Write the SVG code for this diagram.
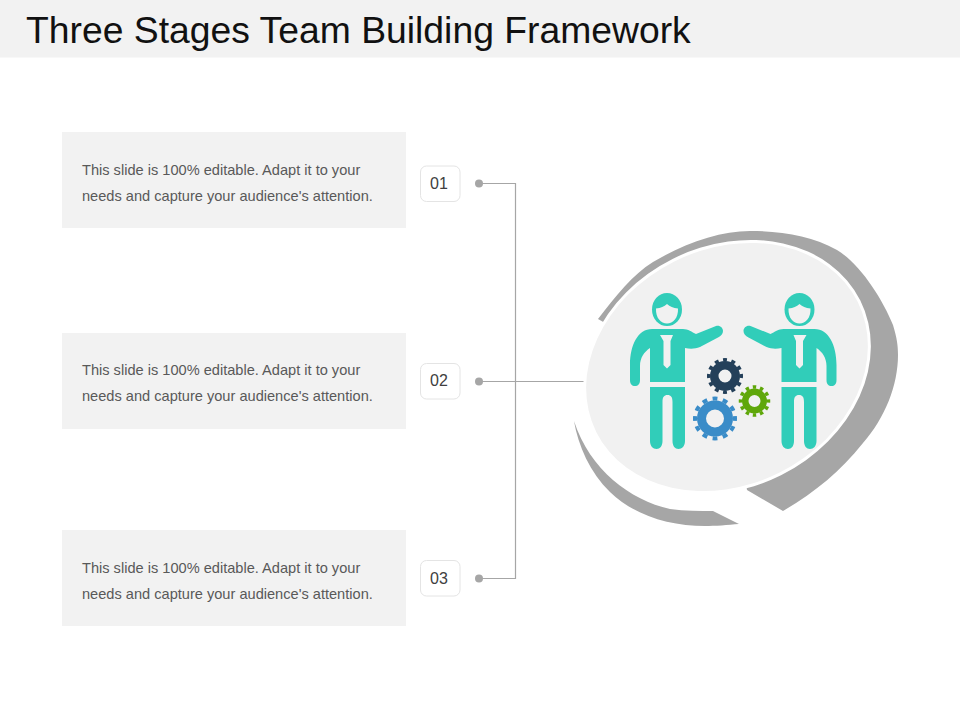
<svg xmlns="http://www.w3.org/2000/svg" xmlns:xlink="http://www.w3.org/1999/xlink" width="960" height="720" viewBox="0 0 960 720">
<style>
text{font-family:"Liberation Sans",Arial,sans-serif}
.title{font-size:37.300px;fill:#111}
.body{font-size:14.600px;fill:#595959}
.box{fill:#f2f2f2}
.badge{fill:#fff;stroke:#e4e4e4;stroke-width:1}
.num{font-size:16px;fill:#404040;text-anchor:middle}
.dot{fill:#a6a6a6}
.conn{fill:none;stroke:#a6a6a6;stroke-width:1.2}
.swoosh{fill:#a6a6a6}
.teal{fill:#31cdb9}
.pale{fill:#f1f1f1}
.ring{fill:none}
.teeth{fill:none;stroke-dasharray:.95 1.05;stroke-dashoffset:.475}
</style>
<defs>
<g id="person">
<ellipse class="teal" cx="667" cy="309.500" rx="15" ry="16.500"/>
<path class="pale" d="M656 308.500C661 308 664 306.500 667 304C670 306.500 673 308 678 308.500C678.500 318 673 323.500 667 323.500C661 323.500 655.500 318 656 308.500Z"/>
<path class="teal" d="M652 329H683C688 329 692 332 696 334L716 326C720 325 723 328 723 331C723 334 721 336 718 337.500L700 347C695 349 690 349 685 348V382H650V348C644 352 640 358 640 366V380C640 384 638 386 635 386C632 386 630 384 630 380V365C630 345 638 329 652 329Z"/>
<path class="pale" d="M660 335H673L670.500 341L670.500 365L667 368.500L663.500 365V341Z"/>
<path class="teal" d="M650 387H685V441C685 446 682 449 678.500 449C675 449 672.500 446 672.500 441V402C672.500 397 671 395 667.500 395C664 395 662.500 397 662.500 402V441C662.500 446 660 449 656.500 449C653 449 650 446 650 441Z"/>
</g>
</defs>
<rect id="header" x="0" y="0" width="960" height="57.500" fill="#f2f2f2"/>
<text class="title" x="26" y="43">Three Stages Team Building Framework</text>

<g id="connectors">
<path class="conn" d="M479 183.500H515.500V578.500H479"/>
<path class="conn" d="M479 381.500H585"/>
</g>

<g id="node-1">
<rect class="box" x="62" y="132" width="344" height="96"/>
<text class="body" x="82" y="175">This slide is 100% editable. Adapt it to your</text>
<text class="body" x="82" y="201">needs and capture your audience's attention.</text>
<rect class="badge" x="420.500" y="166" width="39.500" height="35.500" rx="6"/>
<text class="num" x="439" y="189">01</text>
<circle class="dot" cx="479" cy="183.500" r="4"/>
</g>
<g id="node-2">
<rect class="box" x="62" y="333" width="344" height="96"/>
<text class="body" x="82" y="375">This slide is 100% editable. Adapt it to your</text>
<text class="body" x="82" y="401">needs and capture your audience's attention.</text>
<rect class="badge" x="420.500" y="363.500" width="39.500" height="35.500" rx="6"/>
<text class="num" x="439" y="386">02</text>
<circle class="dot" cx="479" cy="381.500" r="4"/>
</g>
<g id="node-3">
<rect class="box" x="62" y="530" width="344" height="96"/>
<text class="body" x="82" y="572.500">This slide is 100% editable. Adapt it to your</text>
<text class="body" x="82" y="598.500">needs and capture your audience's attention.</text>
<rect class="badge" x="420.500" y="560.500" width="39.500" height="35.500" rx="6"/>
<text class="num" x="439" y="583.500">03</text>
<circle class="dot" cx="479" cy="578.500" r="4"/>
</g>

<g id="emblem">
<path class="swoosh" d="M598 319C615 297 633 274 653 262C685 243 720 231 750 231C782 231 812 236 837 250C860 264 882 298 893 325C897 338 898 346 898 355C898 385 885 418 863 443C840 472 815 492 783 511L747 490L727 367L605 323Z"/>
<path class="swoosh" d="M574 421C578 445 590 473 610 492C635 516 670 526 705 526C715 526 728 525 739 524L713 511C700 511 685 511 670 509C630 500 590 470 574 421Z"/>
<ellipse cx="727" cy="367" rx="149" ry="121" transform="rotate(-26.500 727 367)" fill="#fff"/>
<ellipse cx="727" cy="367" rx="146" ry="118" transform="rotate(-26.500 727 367)" fill="#f1f1f1"/>
</g>

<g id="person-left"><use xlink:href="#person" href="#person"/></g>
<g id="person-right"><use xlink:href="#person" href="#person" transform="matrix(-1 0 0 1 1466.500 0)"/></g>

<g id="gear-dark">
<circle class="ring" cx="725" cy="376" r="10.750" stroke="#24405a" stroke-width="8.500"/>
<circle class="teeth" cx="725" cy="376" r="16.250" stroke="#24405a" stroke-width="3.500" pathLength="24"/>
</g>
<g id="gear-green">
<circle class="ring" cx="754.500" cy="401" r="9.250" stroke="#5fa70a" stroke-width="6.500"/>
<circle class="teeth" cx="754.500" cy="401" r="14" stroke="#5fa70a" stroke-width="3.500" pathLength="24"/>
</g>
<g id="gear-blue">
<circle class="ring" cx="715" cy="418.500" r="13.500" stroke="#3a8cc8" stroke-width="9"/>
<circle class="teeth" cx="715" cy="418.500" r="20" stroke="#3a8cc8" stroke-width="4" pathLength="24"/>
</g>
</svg>
